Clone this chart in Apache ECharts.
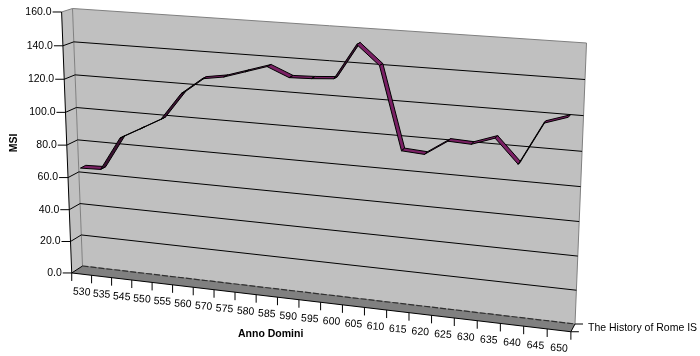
<!DOCTYPE html>
<html>
<head>
<meta charset="utf-8">
<title>The History of Rome IS</title>
<style>
html, body { margin: 0; padding: 0; background: #fff; }
#graph { width: 700px; height: 356px; }
</style>
<script src="https://cdn.jsdelivr.net/npm/echarts@6/dist/echarts.min.js"></script>
</head>
<body>
<div id="graph"></div>
<script>
var years = ['530', '535', '545', '550', '555', '560', '570', '575', '580', '585', '590', '595',
    '600', '605', '610', '615', '620', '625', '630', '635', '640', '645', '650'];
var msi = [65.6, 66, 86.3, 93, 99.8, 116.3, 126, 128, 132, 136, 130.6, 131,
    131.9, 152.3, 141.3, 93.8, 92.9, 101.6, 101, 105.6, 92, 116.2, 120.6];
var msiTicks = [0, 20, 40, 60, 80, 100, 120, 140, 160];
var seriesName = 'The History of Rome IS';

var font = 'Liberation Sans, Arial, sans-serif';

// corners of the back wall as they land on the picture, and where the depth lines meet
var wall = { bl: [82.5, 266], br: [575, 324], tr: [586.5, 43], tl: [72.5, 8.5] };
var vanish = [880, -250];
var depth = 0.0135;

// unit square -> wall quad
var m = (function () {
    var p0 = wall.bl, p1 = wall.br, p2 = wall.tr, p3 = wall.tl;
    var dx1 = p1[0] - p2[0], dx2 = p3[0] - p2[0], sx = p0[0] - p1[0] + p2[0] - p3[0];
    var dy1 = p1[1] - p2[1], dy2 = p3[1] - p2[1], sy = p0[1] - p1[1] + p2[1] - p3[1];
    var det = dx1 * dy2 - dx2 * dy1;
    var g = (sx * dy2 - dx2 * sy) / det;
    var h = (dx1 * sy - sx * dy1) / det;
    return {
        a: p1[0] - p0[0] + g * p1[0], b: p3[0] - p0[0] + h * p3[0], c: p0[0],
        d: p1[1] - p0[1] + g * p1[1], e: p3[1] - p0[1] + h * p3[1], f: p0[1],
        g: g, h: h
    };
})();

// u, v are 0..1 across the grid; w is 0 on the back wall, 1 on the front edge
function project(u, v, w) {
    var q = m.g * u + m.h * v + 1;
    var x = (m.a * u + m.b * v + m.c) / q;
    var y = (m.d * u + m.e * v + m.f) / q;
    var s = depth * (w || 0);
    return [x + s * (x - vanish[0]), y + s * (y - vanish[1])];
}

// a data point: category is a band index, value in MSI
function place(api, params, cat, val, w) {
    var c = api.coord([cat, val]);
    var g = params.coordSys;
    return project((c[0] - g.x) / g.width, 1 - (c[1] - g.y) / g.height, w);
}

// a band edge: the category scale only takes whole indexes, so edges are counted in bands
function placeEdge(api, params, edge, val, w) {
    var c = api.coord([0, val]);
    var g = params.coordSys;
    return project(edge / years.length, 1 - (c[1] - g.y) / g.height, w);
}

function lineEl(a, b, color, width, dash) {
    return {
        type: 'line',
        shape: { x1: a[0], y1: a[1], x2: b[0], y2: b[1] },
        style: { stroke: color, lineWidth: width || 1, lineDash: dash }
    };
}

function polyEl(points, fill, stroke) {
    return {
        type: 'polygon',
        shape: { points: points },
        style: { fill: fill, stroke: stroke || null, lineWidth: 1 }
    };
}

function textEl(str, x, y, opts) {
    opts = opts || {};
    return {
        type: 'text',
        x: x, y: y,
        rotation: opts.rotation || 0,
        style: {
            text: str,
            fill: '#000',
            font: (opts.weight || 'normal') + ' 10.5px ' + font,
            align: opts.align || 'center',
            verticalAlign: 'middle'
        }
    };
}

function renderBox(params, api) {
    var top = msiTicks[msiTicks.length - 1];
    var L = 0, R = years.length;
    var children = [];
    function P(c, v, w) { return placeEdge(api, params, c, v, w); }

    // side wall, back wall, floor
    children.push(polyEl([P(L, 0, 1), P(L, top, 1), P(L, top, 0), P(L, 0, 0)], '#c0c0c0'));
    children.push(polyEl([P(L, 0, 0), P(R, 0, 0), P(R, top, 0), P(L, top, 0)], '#c0c0c0', '#808080'));
    children.push(polyEl([P(L, 0, 1), P(L, 0, 0), P(R, 0, 0), P(R, 0, 1)], '#808080'));
    children.push(lineEl(P(L, top, 1), P(L, top, 0), '#808080'));
    children.push(lineEl(P(L, 0, 0), P(R, 0, 0), '#303030', 1.2, [6, 2]));

    // grid lines on both walls
    msiTicks.forEach(function (t) {
        if (t > 0 && t < top) {
            children.push(lineEl(P(L, t, 0), P(R, t, 0), '#000'));
        }
        if (t < top) {
            children.push(lineEl(P(L, t, 1), P(L, t, 0), '#000'));
        }
    });
    return { type: 'group', children: children };
}

function renderAxes(params, api) {
    var top = msiTicks[msiTicks.length - 1];
    var L = 0, R = years.length;
    var children = [];
    function P(c, v, w) { return placeEdge(api, params, c, v, w); }

    children.push(lineEl(P(L, 0, 1), P(L, top, 1), '#000'));
    children.push(lineEl(P(L, 0, 1), P(R, 0, 1), '#000'));

    msiTicks.forEach(function (t) {
        var a = P(L, t, 1);
        children.push(lineEl([a[0] - 9, a[1]], a, '#000'));
        children.push(textEl(t.toFixed(1), a[0] - 10, a[1], { align: 'right' }));
    });

    for (var i = 0; i <= R; i++) {
        var b = P(i, 0, 1);
        children.push(lineEl(b, [b[0], b[1] + 8], '#000'));
    }
    years.forEach(function (y, i) {
        var c = place(api, params, i, 0, 1);
        children.push(textEl(y, c[0], c[1] + 18, { rotation: -0.06 }));
    });

    // depth axis at the far right corner
    var f = P(R, 0, 1), k = P(R, 0, 0);
    children.push(lineEl(f, k, '#000'));
    children.push(lineEl(f, [f[0] + 8, f[1]], '#000'));
    children.push(lineEl(k, [k[0] + 8, k[1]], '#000'));
    children.push(textEl(seriesName, k[0] + 13, k[1] + 4, { align: 'left' }));
    return { type: 'group', children: children };
}

// the ribbon, one quad per pair of neighbouring points
function renderRibbon(params, api) {
    var children = [];
    var back = 0.25, front = 0.75;
    for (var i = 0; i < msi.length - 1; i++) {
        var a0 = place(api, params, i, msi[i], back);
        var a1 = place(api, params, i, msi[i], front);
        var b0 = place(api, params, i + 1, msi[i + 1], back);
        var b1 = place(api, params, i + 1, msi[i + 1], front);
        // the face we see is the top when the front edge is below the back edge
        var cross = (b1[0] - a1[0]) * (a0[1] - a1[1]) - (b1[1] - a1[1]) * (a0[0] - a1[0]);
        var fill = cross < 0 ? '#7a2064' : '#3a1030';
        children.push(polyEl([a0, b0, b1, a1], fill, '#000'));
    }
    return { type: 'group', children: children };
}

var chart = echarts.init(document.getElementById('graph'), null, { renderer: 'canvas' });

var option = {
    animation: false,
    backgroundColor: '#fff',
    grid: { left: 80, right: 120, top: 10, bottom: 30 },
    xAxis: { type: 'category', data: years, boundaryGap: true, show: false },
    yAxis: { type: 'value', min: 0, max: 160, interval: 20, show: false },
    graphic: [
        {
            type: 'text', left: 238, top: 329,
            style: { text: 'Anno Domini', font: 'bold 10.5px ' + font, fill: '#000' }
        },
        {
            type: 'text', x: 14, y: 143, rotation: Math.PI / 2,
            style: { text: 'MSI', font: 'bold 10.5px ' + font, fill: '#000', align: 'center', verticalAlign: 'middle' }
        }
    ],
    series: [
        { type: 'custom', coordinateSystem: 'cartesian2d', silent: true, data: [0], renderItem: renderBox, z: 1, clip: false },
        { type: 'custom', coordinateSystem: 'cartesian2d', silent: true, data: [0], renderItem: renderAxes, z: 2, clip: false },
        { type: 'custom', name: seriesName, coordinateSystem: 'cartesian2d', silent: true, data: [0], renderItem: renderRibbon, z: 3, clip: false }
    ]
};

chart.setOption(option);
</script>
</body>
</html>
